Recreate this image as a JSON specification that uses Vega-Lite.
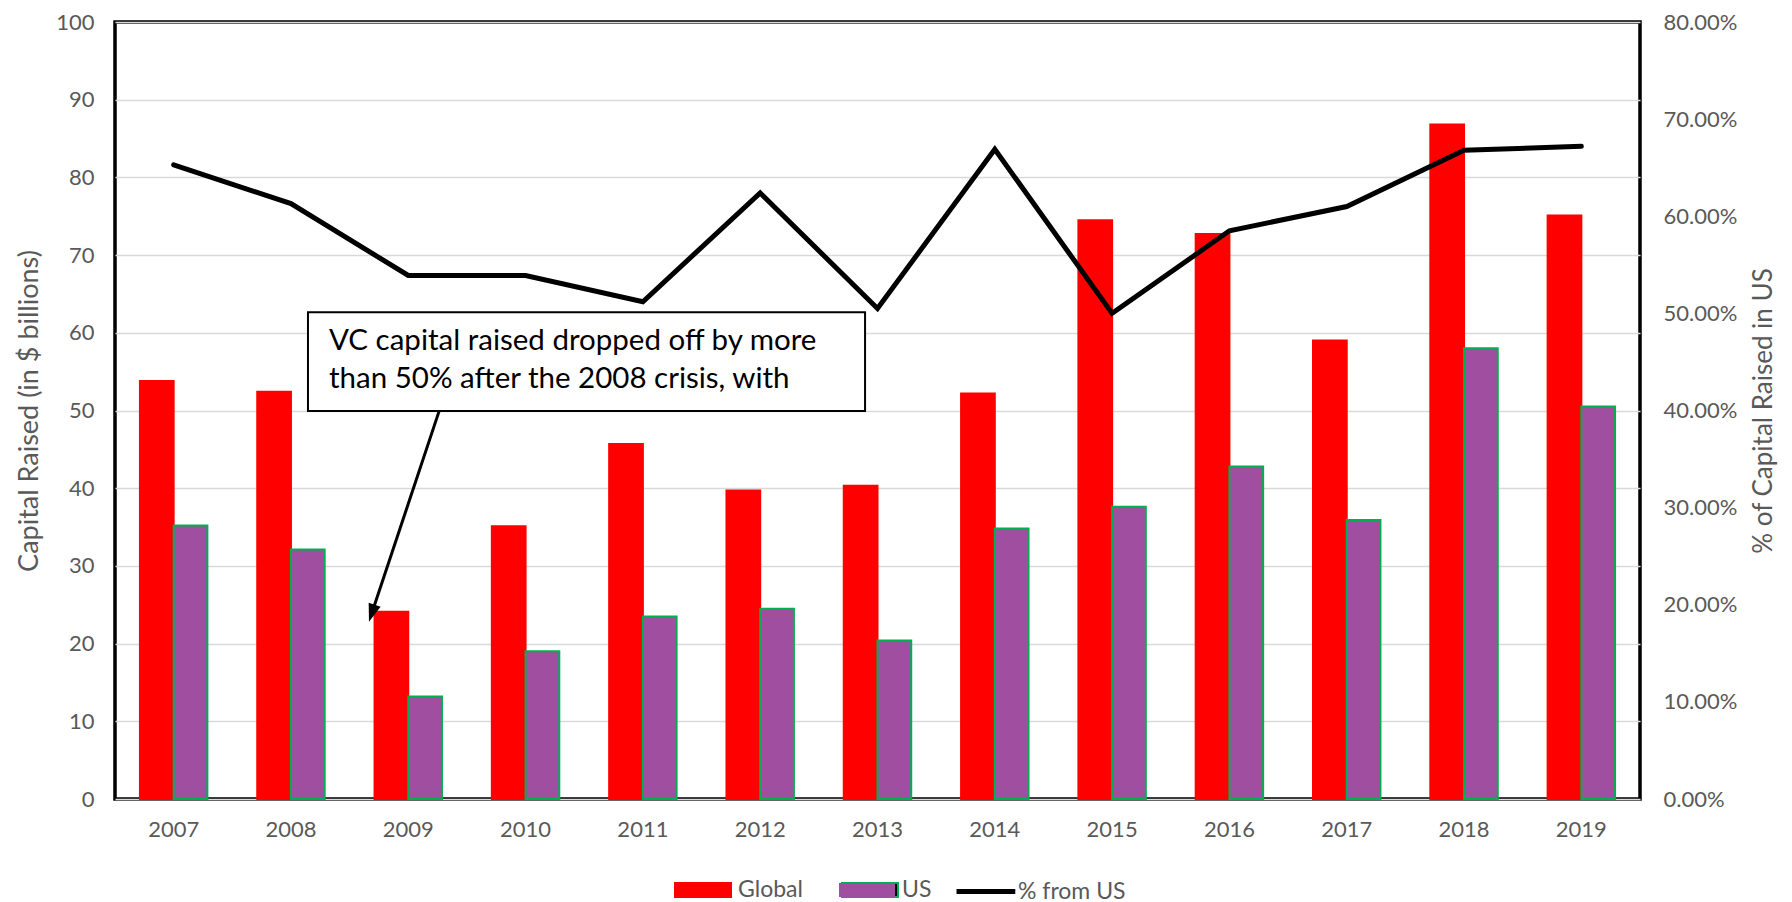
{
  "$schema": "https://vega.github.io/schema/vega-lite/v6.json",
  "width": 1525,
  "height": 777,
  "autosize": {"type": "none"},
  "padding": {"left": 115, "top": 22, "right": 152, "bottom": 103},
  "background": "white",
  "config": {
    "view": {"stroke": "#000000", "strokeWidth": 3.5},
    "font": "Lato",
    "axis": {
      "labelFont": "Lato", "labelFontSize": 22, "labelColor": "#595959",
      "titleFont": "Lato", "titleFontSize": 27, "titleFontWeight": "normal", "titleColor": "#595959",
      "domain": false, "ticks": false, "gridColor": "#D9D9D9", "gridWidth": 1.5
    },
    "legend": {"labelFont": "Lato", "labelFontSize": 23, "labelColor": "#595959", "symbolSize": 784, "labelOffset": 34, "columnPadding": 35}
  },
  "datasets": {
    "bars": [
      {"year": "2007", "series": "Global", "value": 53.8}, {"year": "2007", "series": "US", "value": 35.2},
      {"year": "2008", "series": "Global", "value": 52.4}, {"year": "2008", "series": "US", "value": 32.1},
      {"year": "2009", "series": "Global", "value": 24.1}, {"year": "2009", "series": "US", "value": 13.2},
      {"year": "2010", "series": "Global", "value": 35.1}, {"year": "2010", "series": "US", "value": 19.0},
      {"year": "2011", "series": "Global", "value": 45.7}, {"year": "2011", "series": "US", "value": 23.5},
      {"year": "2012", "series": "Global", "value": 39.7}, {"year": "2012", "series": "US", "value": 24.5},
      {"year": "2013", "series": "Global", "value": 40.3}, {"year": "2013", "series": "US", "value": 20.4},
      {"year": "2014", "series": "Global", "value": 52.2}, {"year": "2014", "series": "US", "value": 34.8},
      {"year": "2015", "series": "Global", "value": 74.5}, {"year": "2015", "series": "US", "value": 37.6},
      {"year": "2016", "series": "Global", "value": 72.7}, {"year": "2016", "series": "US", "value": 42.8},
      {"year": "2017", "series": "Global", "value": 59.0}, {"year": "2017", "series": "US", "value": 35.9},
      {"year": "2018", "series": "Global", "value": 86.8}, {"year": "2018", "series": "US", "value": 58.0},
      {"year": "2019", "series": "Global", "value": 75.1}, {"year": "2019", "series": "US", "value": 50.5}
    ],
    "share": [
      {"year": "2007", "pct": 0.653}, {"year": "2008", "pct": 0.613}, {"year": "2009", "pct": 0.539},
      {"year": "2010", "pct": 0.539}, {"year": "2011", "pct": 0.512}, {"year": "2012", "pct": 0.624},
      {"year": "2013", "pct": 0.505}, {"year": "2014", "pct": 0.669}, {"year": "2015", "pct": 0.500},
      {"year": "2016", "pct": 0.585}, {"year": "2017", "pct": 0.610}, {"year": "2018", "pct": 0.668},
      {"year": "2019", "pct": 0.672}
    ],
    "box": [{"x1": 1.645, "x2": 6.394, "y1": 62.65, "y2": 49.92}],
    "note": [
      {"tx": 1.824, "ty": 57.76, "line": "VC capital raised dropped off by more"},
      {"tx": 1.824, "ty": 52.87, "line": "than 50% after the 2008 crisis, with"}
    ],
    "arrow": [{"x1": 2.763, "x2": 2.189, "y1": 49.92, "y2": 23.9}],
    "tip": [{"x": 2.165, "y": 22.8}]
  },
  "layer": [
    {
      "layer": [
        {
          "data": {"name": "bars"},
          "mark": {"type": "bar", "strokeWidth": 2},
          "encoding": {
            "x": {"field": "year", "type": "nominal", "scale": {"paddingInner": 0.425, "paddingOuter": 0.2125},
                  "axis": {"title": null, "labelAngle": 0, "labelPadding": 20, "grid": false}},
            "xOffset": {"field": "series", "type": "nominal", "scale": {"domain": ["Global", "US"], "paddingInner": 0, "paddingOuter": 0}},
            "y": {"field": "value", "type": "quantitative", "scale": {"domain": [0, 100], "nice": false},
                  "axis": {"title": "Capital Raised (in $ billions)", "values": [0, 10, 20, 30, 40, 50, 60, 70, 80, 90, 100], "grid": true, "labelPadding": 21, "titlePadding": 12}},
            "color": {"field": "series", "type": "nominal",
              "scale": {"domain": ["Global", "US"], "range": ["#FF0000", "#A04FA0"]},
              "legend": {"orient": "none", "legendX": 559, "legendY": 853, "direction": "horizontal", "title": null,
                "symbolType": "M-1,-0.5H3V0.5H-1Z", "symbolStrokeWidth": 2}},
            "stroke": {"field": "series", "type": "nominal",
              "scale": {"domain": ["Global", "US"], "range": ["#FF0000", "#00B050"]},
              "legend": {"orient": "none", "legendX": 559, "legendY": 853, "direction": "horizontal", "title": null,
                "symbolType": "M-1,-0.5H3V0.5H-1Z", "symbolStrokeWidth": 2, "labelOpacity": 0}}
          }
        },
        {
          "data": {"name": "share"},
          "mark": {"type": "line", "strokeWidth": 5, "strokeCap": "round"},
          "encoding": {
            "x": {"field": "year", "type": "nominal"},
            "y": {"field": "pct", "type": "quantitative", "scale": {"domain": [0, 0.8], "nice": false},
                  "axis": {"orient": "right", "format": ".2%", "values": [0, 0.1, 0.2, 0.3, 0.4, 0.5, 0.6, 0.7, 0.8], "grid": false,
                           "title": "% of Capital Raised in US", "titleFontSize": 26, "titleAngle": 270, "titleBaseline": "top",
                           "labelPadding": 23, "titlePadding": 14}},
            "color": {"datum": "% from US", "type": "nominal",
              "scale": {"domain": ["% from US"], "range": ["#000000"]},
              "legend": {"orient": "none", "legendX": 846, "legendY": 853, "direction": "horizontal", "title": null,
                "symbolType": "M-1.5,0H2.7", "symbolStrokeWidth": 5, "labelOffset": 24}}
          }
        }
      ],
      "resolve": {"scale": {"y": "independent", "color": "independent"}}
    },
    {
      "layer": [
        {
          "data": {"name": "box"},
          "mark": {"type": "rect", "fill": "#FFFFFF", "stroke": "#000000", "strokeWidth": 2},
          "encoding": {
            "x": {"field": "x1", "type": "quantitative", "scale": {"domain": [0, 13], "nice": false, "zero": false}, "axis": null},
            "x2": {"field": "x2"},
            "y": {"field": "y1", "type": "quantitative", "scale": {"domain": [0, 100], "nice": false}, "axis": null},
            "y2": {"field": "y2"}
          }
        },
        {
          "data": {"name": "note"},
          "mark": {"type": "text", "align": "left", "baseline": "alphabetic", "fontSize": 29.5, "font": "Lato", "color": "#000000"},
          "encoding": {
            "x": {"field": "tx", "type": "quantitative", "axis": null},
            "y": {"field": "ty", "type": "quantitative", "axis": null},
            "text": {"field": "line"}
          }
        },
        {
          "data": {"name": "arrow"},
          "mark": {"type": "rule", "strokeWidth": 3, "color": "#000000"},
          "encoding": {
            "x": {"field": "x1", "type": "quantitative", "axis": null},
            "x2": {"field": "x2"},
            "y": {"field": "y1", "type": "quantitative", "axis": null},
            "y2": {"field": "y2"}
          }
        },
        {
          "data": {"name": "tip"},
          "mark": {"type": "point", "shape": "M0,0L-0.35,-1L0.35,-1Z", "size": 1296, "angle": 18.4, "filled": true, "color": "#000000", "opacity": 1},
          "encoding": {
            "x": {"field": "x", "type": "quantitative", "axis": null},
            "y": {"field": "y", "type": "quantitative", "axis": null}
          }
        }
      ]
    }
  ],
  "resolve": {"scale": {"x": "independent", "y": "independent"}}
}
